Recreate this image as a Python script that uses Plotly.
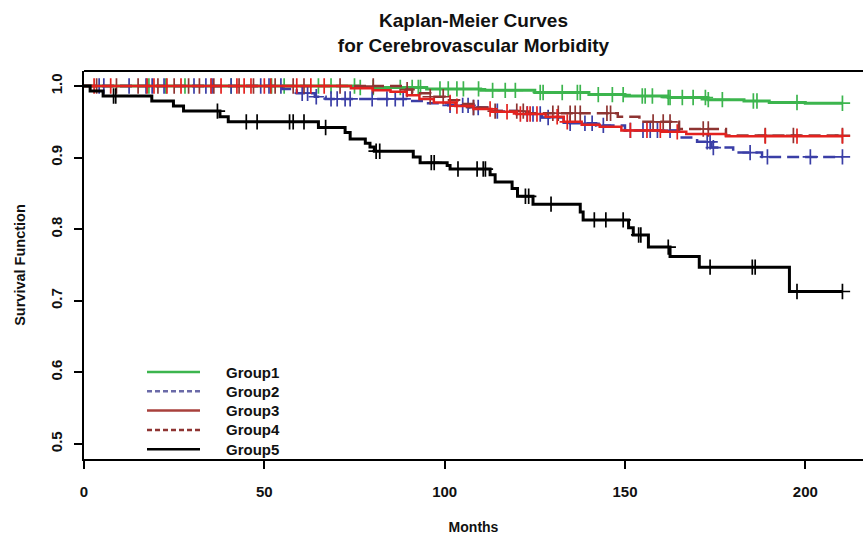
import numpy as np
import plotly.graph_objects as go

END_T = 210.3

# ---- Data ----
groups = ["Group1", "Group2", "Group3", "Group4", "Group5"]

g1_times = [76, 95, 110, 125, 140, 150, 162, 173, 183, 190, 200]
g1_surv = [0.998, 0.996, 0.994, 0.991, 0.988, 0.986, 0.984, 0.981, 0.979, 0.977, 0.976]
g1_cens = [18, 22.7, 28, 40.8, 52, 55.5, 65, 68.5, 75, 76.6, 80.2, 87.7, 91, 92.7, 93.3,
           98.7, 101, 103.4, 105.2, 109.4, 113.3, 116.8, 119.6, 126.5, 127.3, 132.6,
           136.8, 137.6, 142.6, 146.5, 149.5, 154.8, 155.6, 157.6, 162, 162.5, 165.9,
           168.9, 172.3, 173.1, 177, 185.6, 186.6, 197.7, 210.3]

g2_times = [55, 59, 64, 67, 90, 95, 101, 107, 113, 120, 127, 133, 142, 150, 165, 170, 174, 180, 188]
g2_surv = [0.996, 0.990, 0.985, 0.982, 0.979, 0.976, 0.973, 0.970, 0.965, 0.961, 0.956,
           0.948, 0.945, 0.938, 0.928, 0.922, 0.914, 0.907, 0.901]
g2_cens = [4.2, 5.5, 12.5, 17.2, 18.9, 22.2, 30.5, 33.8, 35.5, 40.8, 49, 51.3, 54.6, 60.5,
           62, 64.4, 68.5, 70.2, 72.4, 73.8, 79.9, 84, 86.3, 88.5, 101.5, 105, 106.5, 108,
           109.3, 114.6, 122.9, 124.5, 126.5, 128.7, 134.8, 138.9, 140.9, 144, 151.5,
           155, 157, 159, 162.5, 172.8, 173.6, 174.5, 184.7, 189.5, 201.4, 210.3]

g3_times = [74, 80, 85, 89.5, 93, 97, 103, 108, 113, 120, 128, 133, 138, 143, 149, 160, 167, 178]
g3_surv = [0.997, 0.994, 0.992, 0.987, 0.982, 0.977, 0.972, 0.968, 0.964, 0.961, 0.957,
           0.950, 0.946, 0.943, 0.938, 0.936, 0.933, 0.930]
g3_cens = [2.8, 7.4, 17.5, 19.4, 23, 26.9, 35.2, 38, 42.4, 44.4, 46.3, 50, 51.8, 59, 62.9,
           66.6, 101.5, 103.4, 112.6, 117.3, 121, 122.9, 123.7, 125.6, 131.2, 134,
           151.5, 156.1, 159.8, 164.5, 188.9, 197.7, 210.3]

g4_times = [89, 91, 96, 100, 104, 108, 113, 122, 148, 154, 165, 178]
g4_surv = [0.995, 0.990, 0.985, 0.980, 0.975, 0.970, 0.965, 0.962, 0.957, 0.950, 0.940, 0.931]
g4_cens = [3.5, 9, 15, 20.5, 25, 29, 32, 36, 43, 47, 53, 58, 61, 71, 80.2, 89.6, 96,
           99.6, 108, 114, 120, 121.8, 130, 131.5, 134.8, 136.2, 137.6, 145, 146,
           157.8, 160.6, 162.5, 171.7, 173.1, 188.9, 196.7, 210.3]

g5_times = [1.7, 5.3, 18.8, 24.8, 27.6, 37.7, 40, 65, 72.4, 73.8, 78, 79.3, 80.5, 91.3,
            93.2, 100.7, 101.5, 112.6, 114, 118.7, 120.2, 124.5, 137.6, 138.4, 151,
            152.3, 156.5, 162.5, 170.6, 195.6]
g5_surv = [0.993, 0.986, 0.979, 0.972, 0.965, 0.957, 0.950, 0.942, 0.935, 0.926, 0.920,
           0.915, 0.909, 0.901, 0.893, 0.889, 0.884, 0.876, 0.866, 0.857, 0.846, 0.835,
           0.824, 0.813, 0.802, 0.792, 0.775, 0.762, 0.747, 0.713]
g5_cens = [8.2, 8.8, 37, 45, 48, 57, 58, 61, 67, 81, 82, 96.3, 97.1, 103.7, 109, 110.7,
           111.3, 122.4, 123.3, 129.5, 141.5, 144.7, 149.5, 153.8, 154.4, 162, 173.6,
           185.3, 186.1, 197.7, 210.3]

x_ticks = [0, 50, 100, 150, 200]
y_ticks = [0.5, 0.6, 0.7, 0.8, 0.9, 1.0]
y_ticktext = ["0.5", "0.6", "0.7", "0.8", "0.9", "1.0"]

# ---- Styles ----
styles = {
    "Group1": dict(color="#3cb54e", dash="solid", width=3),
    "Group2": dict(color="#3a3ea6", dash="12px,6px", width=2.5),
    "Group3": dict(color="#e3221f", dash="solid", width=2.5),
    "Group4": dict(color="#8e3432", dash="12px,6px", width=2.5),
    "Group5": dict(color="#000000", dash="solid", width=3),
}
legend_style = {
    "Group1": ("#3cb54e", "solid"), "Group2": ("#6a6aa8", "5px,3px"),
    "Group3": ("#a8403c", "solid"), "Group4": ("#8e3432", "5px,3px"),
    "Group5": ("#000000", "solid"),
}

data = {
    "Group1": (g1_times, g1_surv, g1_cens),
    "Group2": (g2_times, g2_surv, g2_cens),
    "Group3": (g3_times, g3_surv, g3_cens),
    "Group4": (g4_times, g4_surv, g4_cens),
    "Group5": (g5_times, g5_surv, g5_cens),
}

fig = go.Figure()
draw_order = ["Group1", "Group2", "Group4", "Group3", "Group5"]
for g in draw_order:
    t, s, c = data[g]
    xs = np.array([0.0] + list(t) + [END_T])
    ys = np.array([1.0] + list(s) + [s[-1]])
    st = styles[g]
    fig.add_trace(go.Scatter(
        x=xs, y=ys, mode="lines", line_shape="hv", name=g,
        line=dict(color=st["color"], dash=st["dash"], width=st["width"]),
        showlegend=False, hoverinfo="skip"))
    idx = np.searchsorted(xs[:-1], np.array(c), side="right") - 1
    fig.add_trace(go.Scatter(
        x=c, y=ys[idx], mode="markers", name=g + " censored", showlegend=False,
        hoverinfo="skip",
        marker=dict(symbol="cross-thin", size=11, color=st["color"],
                    line=dict(width=1.7, color=st["color"]))))

# ---- Legend (drawn in pixel-derived paper coordinates) ----
PL, PW, PB, PH = 84, 779, 459, 388
def px_x(p):
    return (p - PL) / PW
def px_y(p):
    return (PB - p) / PH

shapes = [dict(type="line", xref="paper", yref="paper", x0=0, x1=1, y0=1, y1=1,
               line=dict(color="black", width=2))]
annotations = []
for i, g in enumerate(groups):
    row_y = 372 + 19.3 * i
    col, dash = legend_style[g]
    shapes.append(dict(type="line", xref="paper", yref="paper",
                       x0=px_x(147), x1=px_x(200), y0=px_y(row_y), y1=px_y(row_y),
                       line=dict(color=col, width=2.5, dash=dash)))
    annotations.append(dict(text=g, xref="paper", yref="paper", x=px_x(224), y=px_y(row_y),
                            xanchor="left", yanchor="middle", showarrow=False,
                            font=dict(size=15, color="#111111", weight="bold")))

fig.update_layout(
    width=863, height=535,
    margin=dict(l=84, r=0, t=71, b=76),
    paper_bgcolor="white", plot_bgcolor="white",
    font=dict(family="Liberation Sans, Arial, sans-serif", color="#111111"),
    title=dict(text="<b>Kaplan-Meier Curves<br>for Cerebrovascular Morbidity</b>",
               x=0.5, xref="paper", xanchor="center",
               y=1 - 27 / 535, yref="container", yanchor="middle",
               font=dict(size=19, color="#111111")),
    showlegend=False,
    xaxis=dict(range=[0, 216], tickvals=x_ticks, ticks="outside", ticklen=8, tickwidth=2,
               tickcolor="black", showline=True, linewidth=2, linecolor="black",
               showgrid=False, zeroline=False, ticklabelstandoff=10,
               tickfont=dict(size=15, weight="bold", color="#111111"),
               title=dict(text="<b>Months</b>", font=dict(size=14), standoff=24)),
    yaxis=dict(range=[0.479, 1.021], tickvals=y_ticks, ticktext=y_ticktext,
               ticks="outside", ticklen=8, tickwidth=2, tickcolor="black",
               showline=True, linewidth=2, linecolor="black", tickangle=-90,
               showgrid=False, zeroline=False, ticklabelstandoff=6,
               tickfont=dict(size=15, weight="bold", color="#111111"),
               title=dict(text="<b>Survival Function</b>", font=dict(size=14.5), standoff=19)),
    shapes=shapes,
    annotations=annotations,
)

fig.write_html("out.html", config={"displayModeBar": False},
               post_script="document.body.style.margin='0px';")
